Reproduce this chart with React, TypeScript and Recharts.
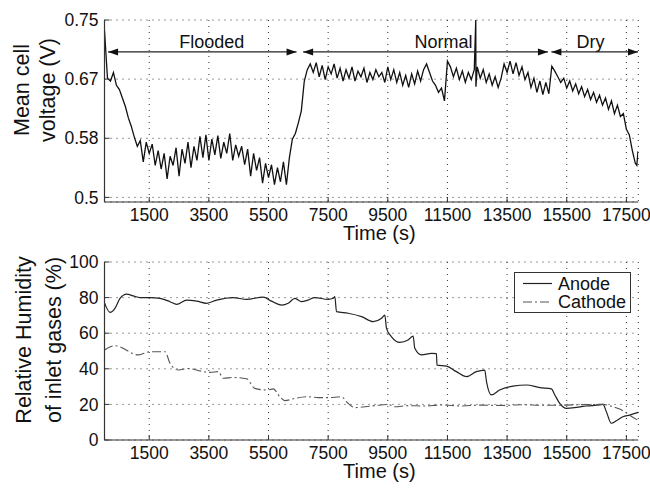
import React from "react";
import {
  LineChart,
  Line,
  XAxis,
  YAxis,
  CartesianGrid,
  ReferenceLine,
  ReferenceDot,
  Legend,
} from "recharts";

const FONT = '"Liberation Sans", Arial, Helvetica, sans-serif';
const INK = "#111";

// axis ticks
const timeTicks = [1500, 3500, 5500, 7500, 9500, 11500, 13500, 15500, 17500];
const voltTicks = [0.5, 0.5833, 0.6667, 0.75];
const voltTickLabels = ["0.5", "0.58", "0.67", "0.75"];
const rhTicks = [0, 20, 40, 60, 80, 100];

// mean cell voltage (V) vs time (s)
const voltTime = [
  0, 100, 200, 300, 400, 500, 600, 700, 800, 900,
  1000, 1100, 1200, 1300, 1400, 1500, 1600, 1700, 1800, 1900,
  2000, 2100, 2200, 2300, 2400, 2500, 2600, 2700, 2800, 2900,
  3000, 3100, 3200, 3300, 3400, 3500, 3600, 3700, 3800, 3900,
  4000, 4100, 4200, 4300, 4400, 4500, 4600, 4700, 4800, 4900,
  5000, 5100, 5200, 5300, 5400, 5500, 5600, 5700, 5800, 5900,
  6000, 6100, 6200, 6300, 6400, 6500, 6600, 6700, 6800, 6900,
  7000, 7100, 7200, 7300, 7400, 7500, 7600, 7700, 7800, 7900,
  8000, 8100, 8200, 8300, 8400, 8500, 8600, 8700, 8800, 8900,
  9000, 9100, 9200, 9300, 9400, 9500, 9600, 9700, 9800, 9900,
  10000, 10100, 10200, 10300, 10400, 10500, 10600, 10700, 10800, 10900,
  11000, 11100, 11200, 11300, 11400, 11500, 11600, 11700, 11800, 11900,
  12000, 12100, 12200, 12300, 12400, 12450, 12455, 12500, 12600, 12700, 12800, 12900,
  13000, 13100, 13200, 13300, 13400, 13500, 13600, 13700, 13800, 13900,
  14000, 14100, 14200, 14300, 14400, 14500, 14600, 14700, 14800, 14900,
  15000, 15100, 15200, 15300, 15400, 15500, 15600, 15700, 15800, 15900,
  16000, 16100, 16200, 16300, 16400, 16500, 16600, 16700, 16800, 16900,
  17000, 17100, 17200, 17300, 17400, 17500, 17600, 17700, 17800, 17850, 17890,
];
const voltage = [
  0.735, 0.668, 0.664, 0.676, 0.658, 0.652, 0.640, 0.628, 0.612, 0.600,
  0.585, 0.572, 0.580, 0.550, 0.578, 0.562, 0.575, 0.545, 0.566, 0.540,
  0.562, 0.526, 0.558, 0.545, 0.570, 0.530, 0.568, 0.548, 0.578, 0.542,
  0.572, 0.552, 0.586, 0.556, 0.588, 0.552, 0.582, 0.560, 0.587, 0.555,
  0.578, 0.562, 0.590, 0.552, 0.574, 0.558, 0.572, 0.546, 0.568, 0.530,
  0.562, 0.538, 0.556, 0.520, 0.548, 0.528, 0.546, 0.518, 0.542, 0.522,
  0.550, 0.518, 0.556, 0.582, 0.590, 0.605, 0.622, 0.664, 0.680, 0.688,
  0.676, 0.690, 0.670, 0.686, 0.666, 0.684, 0.674, 0.688, 0.668, 0.682,
  0.664, 0.680, 0.668, 0.684, 0.664, 0.678, 0.670, 0.682, 0.662, 0.676,
  0.666, 0.680, 0.670, 0.676, 0.662, 0.684, 0.666, 0.680, 0.662, 0.676,
  0.658, 0.672, 0.655, 0.674, 0.660, 0.678, 0.664, 0.680, 0.688, 0.676,
  0.664, 0.658, 0.648, 0.654, 0.636, 0.692, 0.684, 0.670, 0.682, 0.666,
  0.678, 0.662, 0.676, 0.666, 0.680, 0.750, 0.656, 0.684, 0.668, 0.680, 0.662, 0.674,
  0.658, 0.670, 0.655, 0.668, 0.688, 0.676, 0.692, 0.674, 0.690, 0.672,
  0.684, 0.666, 0.676, 0.655, 0.668, 0.648, 0.664, 0.645, 0.662, 0.646,
  0.685, 0.678, 0.670, 0.662, 0.668, 0.654, 0.664, 0.650, 0.660, 0.646,
  0.656, 0.642, 0.652, 0.638, 0.648, 0.634, 0.644, 0.630, 0.640, 0.624,
  0.636, 0.618, 0.630, 0.614, 0.618, 0.596, 0.588, 0.566, 0.548, 0.545, 0.565,
];

// relative humidity of inlet gases (%)
const anodeTime = [
  0, 185, 350, 520, 744, 960, 1190, 1525, 1860, 2195, 2420, 2755, 3090, 3425,
  3760, 4310, 4765, 5320, 5600, 5940, 6160, 6384, 6608, 6820, 7054, 7500, 7667,
  7724, 7780, 8170, 8620, 9010, 9290, 9400, 9457, 9625, 9900, 10180, 10350,
  10405, 10630, 10965, 11130, 11150, 11470, 11800, 12140, 12470, 12750, 12810,
  12975, 13250, 13700, 14150, 14600, 14985, 15100, 15265, 15490, 15825, 16160,
  16605, 16715, 16830, 16995, 17165, 17385, 17610, 17900,
];
const anodeRH = [
  77, 71.7, 74, 79.6, 82, 81, 80, 80, 79.6, 77.7, 76.2, 78.6, 78, 76.8,
  78.6, 80, 79, 80.3, 78, 75.8, 76.8, 79.6, 77.7, 78.6, 80, 79, 79.6,
  80.5, 72.1, 71.2, 69.3, 66.5, 68.4, 70.2, 62.7, 58, 54.9, 56.2, 58.4,
  51.5, 47.8, 48.7, 48.5, 42.1, 41.5, 38.4, 35.6, 38.4, 39.3, 32.8,
  25.3, 28.1, 30.3, 30.9, 29.4, 28.7, 25.3, 20.6, 17.8, 18.3, 19.1,
  19.7, 20, 15.9, 9.4, 10.8, 13.1, 14, 15.5,
];
const cathodeTime = [
  0, 350, 1133, 1525, 2030, 2200, 2475, 2810, 3200, 3535, 3815, 3980, 4310,
  4765, 5040, 5435, 5660, 5880, 6050, 6384, 6830, 7165, 7500, 7950, 8115,
  8395, 8730, 9065, 9510, 9730, 10180, 10740, 11300, 11970, 12600, 13300,
  14000, 14700, 15400, 16100, 16700, 17050, 17275, 17440, 17650, 17900,
];
const cathodeRH = [
  50.6, 53, 47.8, 49.6, 49.6, 43, 39.3, 40.2, 38.8, 38, 38.4, 34.7, 35.1,
  34.4, 29, 28.1, 28.7, 24.3, 22.1, 23.4, 24.3, 23.8, 23.8, 24.3, 21.5,
  18.2, 18.7, 19.3, 20, 18.7, 19.3, 19.1, 19.7, 19.1, 19.6, 19.4,
  19.8, 19.5, 19.6, 19.9, 20, 18.7, 17.4, 15.9, 13.5, 11,
];

// operating phases marked over the voltage trace
const phaseNames = ["Flooded", "Normal", "Dry"];
const phaseStart = [120, 6660, 14985];
const phaseEnd = [6440, 14870, 17890];
const phaseLabelAt = [3600, 11370, 16300];
const phaseLevel = 0.705;

const voltData = voltTime.map((t, i) => ({ t, v: voltage[i] }));
const anodeData = anodeTime.map((t, i) => ({ t, rh: anodeRH[i] }));
const cathodeData = cathodeTime.map((t, i) => ({ t, rh: cathodeRH[i] }));

const tickStyle = { fontSize: 17.5, fill: INK, fontFamily: FONT };
const axisLine = { stroke: "#333", strokeWidth: 1.2 };
const tickLine = { stroke: "#333", strokeWidth: 1 };

function ArrowShape(props: any) {
  const { x1, y1, x2, y2 } = props;
  const head = 10;
  const half = 3.5;
  return (
    <g>
      <line x1={x1} y1={y1} x2={x2} y2={y2} stroke="#222" strokeWidth={1.2} />
      <polygon points={`${x1},${y1} ${x1 + head},${y1 - half} ${x1 + head},${y1 + half}`} fill="#111" />
      <polygon points={`${x2},${y2} ${x2 - head},${y2 - half} ${x2 - head},${y2 + half}`} fill="#111" />
    </g>
  );
}

function TimeLabel(props: any) {
  const vb = props.viewBox || { x: 104.5, y: 0, width: 533.8 };
  return (
    <text
      x={vb.x + vb.width / 2 + 8}
      y={vb.y + 38}
      textAnchor="middle"
      fontSize={20}
      fontFamily={FONT}
      fill={INK}
    >
      Time (s)
    </text>
  );
}

function TwoLineYLabel({ lines, xs, cy }: { lines: string[]; xs: number[]; cy: number }) {
  return (
    <g>
      {lines.map((s, i) => (
        <text
          key={s}
          x={xs[i]}
          y={cy}
          transform={`rotate(-90 ${xs[i]} ${cy})`}
          textAnchor="middle"
          fontSize={21.5}
          fontFamily={FONT}
          fill={INK}
        >
          {s}
        </text>
      ))}
    </g>
  );
}

function RhLegend() {
  return (
    <div
      style={{
        width: 117,
        height: 41,
        boxSizing: "border-box",
        border: "1px solid #333",
        background: "#fff",
      }}
    >
      <svg width={115} height={39}>
        <line x1={8} y1={10.5} x2={37} y2={10.5} stroke="#222" strokeWidth={1.2} />
        <text x={43} y={16.5} fontSize={18} fontFamily={FONT} fill={INK}>
          Anode
        </text>
        <line x1={8} y1={29} x2={37} y2={29} stroke="#555" strokeWidth={1.2} strokeDasharray="9 3 2 3" />
        <text x={43} y={35} fontSize={18} fontFamily={FONT} fill={INK}>
          Cathode
        </text>
      </svg>
    </div>
  );
}

export default function App() {
  return (
    <div
      style={{
        position: "absolute",
        left: 0,
        top: 0,
        width: 650,
        height: 489,
        background: "#fff",
        fontFamily: FONT,
      }}
    >
      <LineChart width={650} height={245} data={voltData} margin={{ top: 20, right: 11.7, left: 0, bottom: 0 }}>
        <CartesianGrid stroke="#333" strokeDasharray="1 5" />
        <XAxis
          dataKey="t"
          type="number"
          domain={[0, 17900]}
          ticks={timeTicks}
          allowDataOverflow
          height={43}
          tick={tickStyle}
          tickSize={-5}
          tickMargin={12}
          axisLine={axisLine}
          tickLine={tickLine}
          label={{ content: (p: any) => <TimeLabel {...p} /> }}
        />
        <YAxis
          type="number"
          domain={[0.4935, 0.75]}
          ticks={voltTicks}
          allowDataOverflow
          width={104.5}
          tick={tickStyle}
          tickSize={-5}
          tickMargin={11}
          tickFormatter={(v: number) => voltTickLabels[voltTicks.indexOf(v)] ?? String(v)}
          axisLine={axisLine}
          tickLine={tickLine}
          label={{
            content: () => <TwoLineYLabel lines={["Mean cell", "voltage (V)"]} xs={[29, 55]} cy={90} />,
          }}
        />
        <Line
          dataKey="v"
          type="linear"
          stroke="#111"
          strokeWidth={1.3}
          dot={false}
          isAnimationActive={false}
        />
        {phaseNames.map((name, i) => (
          <ReferenceLine
            key={name}
            segment={[
              { x: phaseStart[i], y: phaseLevel },
              { x: phaseEnd[i], y: phaseLevel },
            ]}
            shape={ArrowShape}
          />
        ))}
        {phaseNames.map((name, i) => (
          <ReferenceDot
            key={name + "-label"}
            x={phaseLabelAt[i]}
            y={phaseLevel}
            r={0}
            fill="none"
            stroke="none"
            label={{ value: name, position: "top", offset: 4, fontSize: 18, fill: INK, fontFamily: FONT }}
          />
        ))}
      </LineChart>
      <LineChart width={650} height={244} margin={{ top: 17, right: 11.7, left: 0, bottom: 0 }}>
        <CartesianGrid stroke="#333" strokeDasharray="1 5" />
        <XAxis
          dataKey="t"
          type="number"
          domain={[0, 17900]}
          ticks={timeTicks}
          allowDataOverflow
          height={49}
          tick={tickStyle}
          tickSize={-5}
          tickMargin={12}
          axisLine={axisLine}
          tickLine={tickLine}
          label={{ content: (p: any) => <TimeLabel {...p} /> }}
        />
        <YAxis
          type="number"
          domain={[0, 100]}
          ticks={rhTicks}
          allowDataOverflow
          width={104.5}
          tick={tickStyle}
          tickSize={-5}
          tickMargin={11}
          axisLine={axisLine}
          tickLine={tickLine}
          label={{
            content: () => (
              <TwoLineYLabel lines={["Relative Humidity", "of inlet gases (%)"]} xs={[31, 60.5]} cy={95} />
            ),
          }}
        />
        <Line
          data={anodeData}
          dataKey="rh"
          name="Anode"
          type="monotone"
          stroke="#222"
          strokeWidth={1.2}
          dot={false}
          isAnimationActive={false}
        />
        <Line
          data={cathodeData}
          dataKey="rh"
          name="Cathode"
          type="monotone"
          stroke="#555"
          strokeWidth={1.1}
          strokeDasharray="9 3 2 3"
          dot={false}
          isAnimationActive={false}
        />
        <Legend
          layout="vertical"
          align="center"
          verticalAlign="middle"
          content={() => <RhLegend />}
          wrapperStyle={{ position: "absolute", left: 514, top: 27, width: 117, height: 41, margin: 0 }}
        />
      </LineChart>
    </div>
  );
}
